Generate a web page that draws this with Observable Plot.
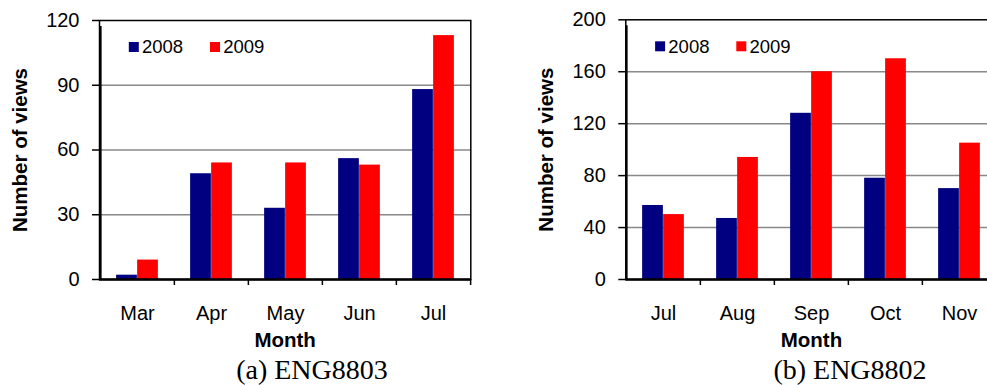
<!DOCTYPE html>
<html><head><meta charset="utf-8">
<script src="https://cdn.jsdelivr.net/npm/d3@7"></script>
<script src="https://cdn.jsdelivr.net/npm/@observablehq/plot@0.6"></script>
<style>
html,body{margin:0;padding:0;background:#fff;overflow:hidden}
#wrap{position:relative;width:987px;height:385px;overflow:hidden;font-family:"Liberation Sans",Arial,sans-serif}
.chart{position:absolute;top:0}
.chart svg{max-width:none !important;height:auto}
.caption{position:absolute;font-family:"Liberation Serif","Times New Roman",serif;font-size:28px;line-height:28px;text-align:center;white-space:nowrap;color:#000}
</style></head><body>
<div id="wrap">
  <div id="a" class="chart" style="left:0;width:493px"></div>
  <div id="b" class="chart" style="left:497px;width:520px"></div>
  <div class="caption" style="left:0;width:624px;top:356px">(a) ENG8803</div>
  <div class="caption" style="left:497px;width:706px;top:356px">(b) ENG8802</div>
</div>
<script>
const series = ["2008", "2009"];
const seriesColors = ["#000080", "#ff0000"];
const monthsA = ["Mar", "Apr", "May", "Jun", "Jul"];
const views2008A = [2, 49, 33, 56, 88];
const views2009A = [9, 54, 54, 53, 113];
const yTicksA = [0, 30, 60, 90, 120];
const monthsB = ["Jul", "Aug", "Sep", "Oct", "Nov"];
const views2008B = [57, 47, 128, 78, 70];
const views2009B = [50, 94, 160, 170, 105];
const yTicksB = [0, 40, 80, 120, 160, 200];
const xLabel = "Month";
const yLabel = "Number of views";

function chart(months, v08, v09, yTicks, width, ml, mr, mt) {
  const H = 352, mb = 73;
  const plotW = width - ml - mr;
  const bw = plotW / months.length;
  const barW = 21;
  const outer = (bw - 2 * barW) / 2;
  const yMax = yTicks[yTicks.length - 1];
  const rows = months.map((m, i) => ({month: m, v08: v08[i], v09: v09[i]}));
  const legend = series.flatMap((s, i) => [
    Plot.dot([s], {frameAnchor: "top-left", dx: 34.3 + i * 81.2, dy: 26.5, symbol: "square", r: 5.64, fill: seriesColors[i], stroke: null}),
    Plot.text([s], {text: d => d, frameAnchor: "top-left", dx: 42.5 + i * 81.2, dy: 27, textAnchor: "start", lineAnchor: "middle", fontSize: 18.5})
  ]);
  return Plot.plot({
    width, height: H,
    marginLeft: ml, marginRight: mr, marginTop: mt, marginBottom: mb,
    x: {type: "band", domain: months, padding: 0},
    y: {domain: [0, yMax]},
    style: {fontFamily: "'Liberation Sans', Arial, sans-serif", fontSize: "20px", color: "#000", background: "transparent", overflow: "visible", maxWidth: "none"},
    marks: [
      Plot.ruleY(yTicks.slice(1, -1), {stroke: "#888888", strokeWidth: 1.5}),
      Plot.barY(rows, {x: "month", y: "v08", fill: seriesColors[0], insetLeft: outer, insetRight: bw - outer - barW}),
      Plot.barY(rows, {x: "month", y: "v09", fill: seriesColors[1], insetLeft: outer + barW, insetRight: outer}),
      Plot.frame({stroke: "#000", strokeWidth: 1.5}),
      Plot.ruleY([0], {stroke: "#000", strokeWidth: 2.5}),
      Plot.ruleX(months.slice(0, 1), {x: d => d, dx: -bw / 2, y1: 0, y2: yMax, insetBottom: -6, stroke: "#000", strokeWidth: 2.5}),
      Plot.ruleX(months.slice(1), {x: d => d, dx: -bw / 2, y1: 0, y2: 0, insetBottom: -6, stroke: "#000", strokeWidth: 1.5}),
      Plot.ruleX(months.slice(-1), {x: d => d, dx: bw / 2, y1: 0, y2: 0, insetBottom: -6, stroke: "#000", strokeWidth: 1.5}),
      Plot.axisY({ticks: yTicks, tickSize: 7, tickPadding: 13, label: null, strokeWidth: 1.5}),
      Plot.axisX({tickSize: 0, tickPadding: 26, label: null}),
      Plot.text([xLabel], {text: d => d, frameAnchor: "bottom", dy: 61, textAnchor: "middle", lineAnchor: "middle", fontWeight: "bold", fontSize: 20.5}),
      Plot.text([yLabel], {text: d => d, frameAnchor: "left", dx: -79, rotate: -90, textAnchor: "middle", lineAnchor: "middle", fontWeight: "bold", fontSize: 20.5}),
      ...legend
    ]
  });
}

document.getElementById("a").appendChild(chart(monthsA, views2008A, views2009A, yTicksA, 493, 99, 22.7, 20));
document.getElementById("b").appendChild(chart(monthsB, views2008B, views2009B, yTicksB, 520, 128.3, 20.4, 19.3));
</script>
</body></html>
